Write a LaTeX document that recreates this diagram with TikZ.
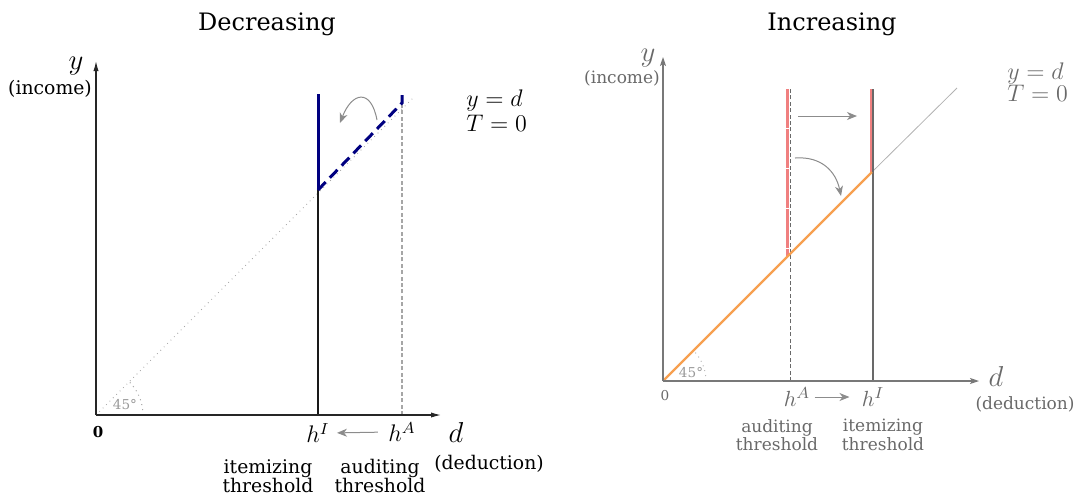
\documentclass[tikz,border=0pt]{standalone}
\usepackage{fontspec}
\setmainfont{DejaVu Serif}
\usetikzlibrary{arrows.meta, positioning, calc}
\definecolor{navyLine}{RGB}{0, 0, 128}
\definecolor{coralLine}{RGB}{240, 128, 128}
\definecolor{orangeLine}{RGB}{247, 160, 80}
\definecolor{softGray}{RGB}{105, 105, 105}
\tikzset{
  axisline/.style={
    -{Latex[length=5pt,width=2.6pt]}, line width=0.55pt, color=black!85
  },
  axisgray/.style={
    -{Stealth[length=4.5pt,width=3pt,inset=1pt]}, line width=0.55pt, color=softGray!90
  },
  movearrow/.style={
    -{Stealth[length=5pt,width=4pt,inset=1.5pt]}, line width=0.5pt, color=gray!90
  },
  titletext/.style={font=\fontsize{12}{14}\selectfont},
  lefttext/.style={font=\fontsize{9.4}{9.4}\selectfont, align=center, inner sep=0pt},
  righttext/.style={font=\fontsize{8.5}{8.1}\selectfont, align=center, inner sep=0pt, color=softGray},
  bigmath/.style={font=\fontsize{15}{17}\selectfont, inner sep=0pt},
  hlabel/.style={font=\fontsize{11.5}{13}\selectfont, inner sep=0pt},
  anglelabel/.style={font=\fontsize{6.8}{8}\selectfont, color=gray!80, inner sep=0pt}
}

\begin{document}
\begin{tikzpicture}[x=0.5pt, y=-0.5pt]

  \useasboundingbox (0,0) rectangle (1077,495);

  % ── Titles ────────────────────────────────────────────────────────────────
  \node[titletext] (titleDec) at (267,24) {Decreasing};
  \node[titletext] (titleInc) at (832,24) {Increasing};

  % ── Left panel: key points ────────────────────────────────────────────────
  \coordinate (lO)    at (96,415);
  \coordinate (lYend) at (96,61);
  \coordinate (lXend) at (441,415);
  \coordinate (lHI)   at (318,415);
  \coordinate (lHIk)  at (318,190);
  \coordinate (lHIt)  at (318,94);
  \coordinate (lHA)   at (402,415);
  \coordinate (lHAk)  at (402,103);
  \coordinate (lHAt)  at (402,95);
  \coordinate (lDiag) at (415,96);

  % ── Left panel: lines ─────────────────────────────────────────────────────
  \draw[gray!70, line width=0.4pt, dotted] (lO) -- (lDiag);
  \draw[gray!70, line width=0.5pt, dotted] ($(lO)+(47,0)$) arc[start angle=0, end angle=-45, radius=47];
  \draw[black!90, line width=0.6pt] (lHI) -- (lHIk);
  \draw[gray!70, line width=0.6pt, dash pattern=on 2pt off 1.2pt] (lHA) -- (lHAk);
  \draw[navyLine, line width=1.5pt] (lHIk) -- (lHIt);
  \draw[navyLine, line width=1.5pt, dash pattern=on 5.5pt off 3pt] (lHIk) -- (lHAk) -- (lHAt);
  \draw[axisline] (lO) -- (lYend);
  \draw[axisline] (lO) -- (lXend);
  \coordinate (lCurvA) at (377,120);
  \coordinate (lCurvB) at (340,123);
  \draw[movearrow] (lCurvA) .. controls (371,88) and (352,92) .. (lCurvB);

  % ── Left panel: labels ────────────────────────────────────────────────────
  \node[bigmath] (lY) at (76,66) {$y$};
  \node[lefttext] (lInc) at (50,89) {(income)};
  \node[bigmath] (lD) at (456,432) {$d$};
  \node[lefttext] (lDed) at (489,464) {(deduction)};
  \node[font=\fontsize{7.5}{8}\selectfont\bfseries, inner sep=0pt] (lZero) at (98,432) {0};
  \node[anglelabel] (lAng) at (125,405) {45°};
  \node[hlabel] (lhI) at (318,433) {$h^I$};
  \node[hlabel] (lhA) at (402,432) {$h^A$};
  \draw[movearrow, shorten <=5pt, shorten >=3.5pt] (lhA.west) -- (lhI.east);
  \node[lefttext] (lItem) at (268,476) {itemizing\\threshold};
  \node[lefttext] (lAudit) at (380,476) {auditing\\threshold};
  \node[font=\fontsize{12}{14}\selectfont, anchor=north west, align=left, inner sep=0pt]
    (lEq) at (466,89) {$y=d$\\[-1.5pt]$T=0$};

  % ── Right panel: key points ───────────────────────────────────────────────
  \coordinate (rO)    at (663,381);
  \coordinate (rYend) at (663,57);
  \coordinate (rXend) at (979,381);
  \coordinate (rHA)   at (790.5,381);
  \coordinate (rHAt)  at (790.5,89);
  \coordinate (rRedAk) at (787,256);
  \coordinate (rRedAt) at (787,89);
  \coordinate (rHI)   at (873,381);
  \coordinate (rHIt)  at (873,89);
  \coordinate (rKink) at (872,172);
  \coordinate (rRedIt) at (871,89);
  \coordinate (rRedIk) at (871,173);
  \coordinate (rDiag) at (957,88);

  % ── Right panel: lines ────────────────────────────────────────────────────
  \draw[gray!60, line width=0.4pt] (rKink) -- (rDiag);
  \draw[gray!55, line width=0.5pt, dotted] ($(rO)+(43,0)$) arc[start angle=0, end angle=-45, radius=43];
  \draw[coralLine, line width=1.5pt, dash pattern=on 19.4pt off 0.6pt] (rRedAt) -- (rRedAk);
  \draw[coralLine, line width=1.5pt] (rRedIt) -- (rRedIk);
  \draw[softGray, line width=0.6pt, dash pattern=on 2pt off 1.2pt] (rHA) -- (rHAt);
  \draw[softGray, line width=0.6pt] (rHI) -- (rHIt);
  \draw[orangeLine, line width=1.1pt] (rO) -- (rKink);
  \draw[axisgray] (rO) -- (rYend);
  \draw[axisgray] (rO) -- (rXend);
  \coordinate (rMoveA) at (798,116);
  \coordinate (rMoveB) at (857,116);
  \draw[movearrow] (rMoveA) -- (rMoveB);
  \coordinate (rCurvA) at (795,158);
  \coordinate (rCurvB) at (841,196);
  \draw[movearrow] (rCurvA) .. controls (822,156) and (836,172) .. (rCurvB);

  % ── Right panel: labels ───────────────────────────────────────────────────
  \node[bigmath, font=\fontsize{14}{16}\selectfont, color=softGray] (rY) at (648,58) {$y$};
  \node[righttext] (rInc) at (622,78) {(income)};
  \node[bigmath, font=\fontsize{14}{16}\selectfont, color=softGray] (rD) at (996,376) {$d$};
  \node[righttext] (rDed) at (1025,404) {(deduction)};
  \node[font=\fontsize{6.8}{8}\selectfont, color=softGray, inner sep=0pt] (rZero) at (665,396) {0};
  \node[anglelabel] (rAng) at (691,373) {45°};
  \node[hlabel, font=\fontsize{11}{13}\selectfont, color=softGray] (rhA) at (797,397) {$h^A$};
  \node[hlabel, font=\fontsize{11}{13}\selectfont, color=softGray] (rhI) at (873,397) {$h^I$};
  \draw[movearrow, shorten <=2pt, shorten >=6pt] (rhA.east) -- (rhI.west);
  \node[righttext] (rAudit) at (777,435) {auditing\\threshold};
  \node[righttext] (rItem) at (883,435) {itemizing\\threshold};
  \node[font=\fontsize{11.5}{13}\selectfont, color=softGray, anchor=north west, align=left, inner sep=0pt]
    (rEq) at (1007,62) {$y=d$\\[-2pt]$T=0$};

\end{tikzpicture}
\end{document}
